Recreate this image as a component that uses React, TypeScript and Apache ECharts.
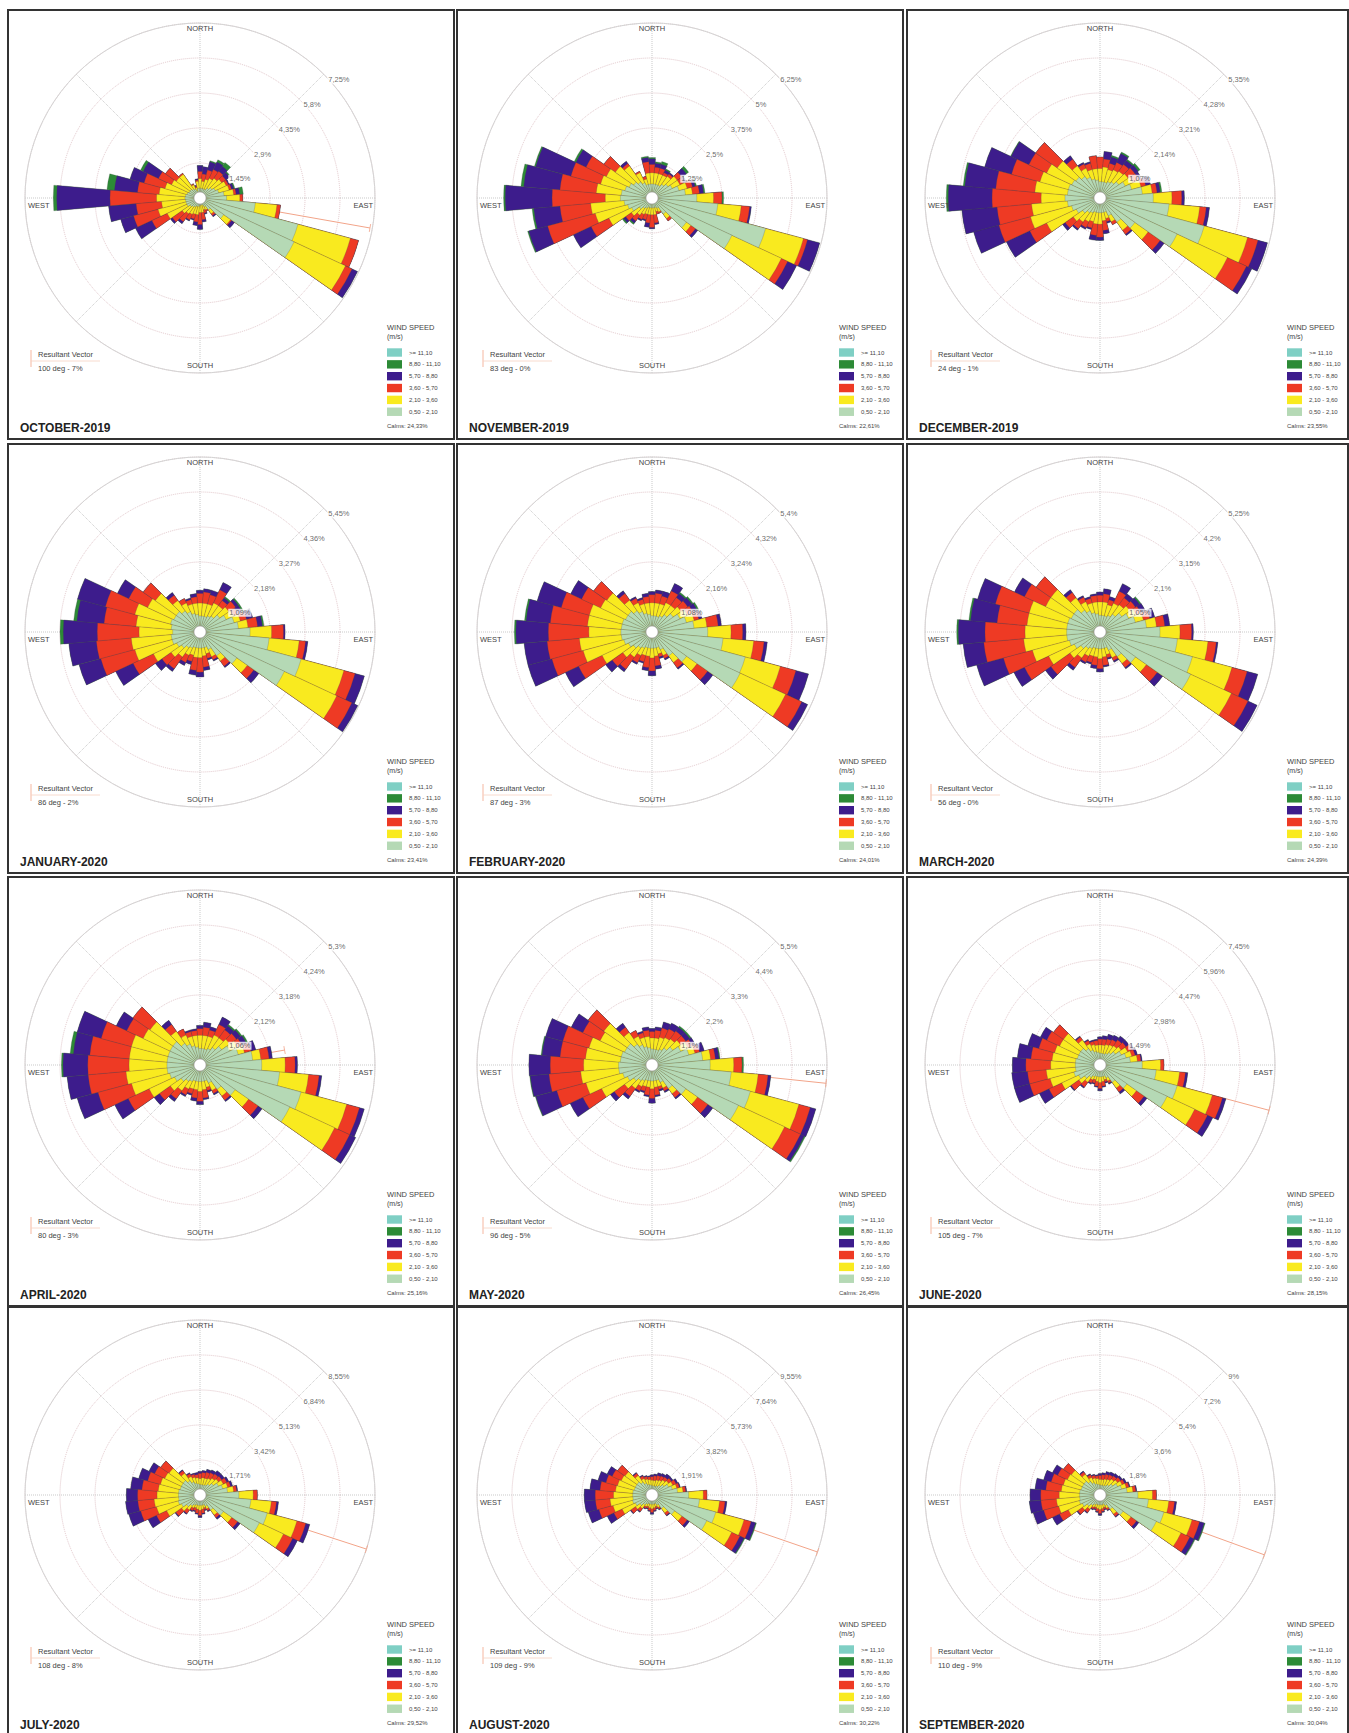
import React, { useEffect, useRef } from 'react';
import * as echarts from 'echarts';

// ---------------- DATA ----------------
const MONTHS = ['OCTOBER-2019', 'NOVEMBER-2019', 'DECEMBER-2019', 'JANUARY-2020', 'FEBRUARY-2020', 'MARCH-2020',
  'APRIL-2020', 'MAY-2020', 'JUNE-2020', 'JULY-2020', 'AUGUST-2020', 'SEPTEMBER-2020'];
const RING_STEP = [1.45, 1.25, 1.07, 1.09, 1.08, 1.05, 1.06, 1.1, 1.49, 1.71, 1.91, 1.8];
const RING_MAX = [7.25, 6.25, 5.35, 5.45, 5.4, 5.25, 5.3, 5.5, 7.45, 8.55, 9.55, 9];
const RV_DEG = [100, 83, 24, 86, 87, 56, 80, 96, 105, 108, 109, 110];
const RV_PCT = [7, 0, 1, 2, 3, 0, 3, 5, 7, 8, 9, 9];
// drawn length of the resultant vector (%) (clipped at the outer ring)
const RV_LEN = [7.15, 0, 1, 2, 2.6, 0, 2.6, 5.5, 7.45, 8.55, 9.55, 9];
const CALMS = ['24,33%', '22,61%', '23,55%', '23,41%', '24,01%', '24,39%', '25,16%', '26,45%', '28,15%', '29,52%', '30,22%', '30,04%'];
const DIRECTIONS = ['0', '10', '20', '30', '40', '50', '60', '70', '80', '90', '100', '110', '120', '130', '140', '150', '160', '170',
  '180', '190', '200', '210', '220', '230', '240', '250', '260', '270', '280', '290', '300', '310', '320', '330', '340', '350'];
const SPEED_CLASSES = ['>= 11,10', '8,80 - 11,10', '5,70 - 8,80', '3,60 - 5,70', '2,10 - 3,60', '0,50 - 2,10'];
const SPEED_COLORS = ['#7fcfc4', '#2c8a36', '#3d1c8c', '#ee3a24', '#f9ea1f', '#b5d9b5'];

// Cumulative frequency (%) reached at the outer edge of each speed class, per direction (N clockwise):
// [0.5-2.1, 2.1-3.6, 3.6-5.7, 5.7-8.8, 8.8-11.1]
const OCT = [
  [0.4, 0.8, 1.1, 1.35, 1.35], [0.4, 0.7, 1.0, 1.3, 1.3], [0.4, 0.8, 1.2, 1.55, 1.6], [0.4, 0.9, 1.3, 1.65, 1.75],
  [0.5, 1.0, 1.35, 1.6, 1.8], [0.6, 1.1, 1.3, 1.5, 1.55], [0.7, 1.2, 1.3, 1.35, 1.35], [0.8, 1.25, 1.35, 1.45, 1.5],
  [1.0, 1.4, 1.5, 1.65, 1.8], [1.1, 1.65, 1.77, 1.77, 1.77], [2.3, 3.2, 3.35, 3.35, 3.35], [4.2, 6.45, 6.8, 6.8, 6.8],
  [4.3, 6.65, 6.95, 7.2, 7.2], [1.2, 1.55, 1.6, 1.75, 1.75], [0.6, 0.8, 0.9, 0.95, 0.95], [0.4, 0.55, 0.6, 0.6, 0.6],
  [0.3, 0.5, 0.65, 0.7, 0.7], [0.3, 0.6, 0.9, 1.0, 1.0], [0.3, 0.6, 1.1, 1.3, 1.3], [0.35, 0.7, 1.0, 1.15, 1.15],
  [0.35, 0.7, 0.9, 0.95, 0.95], [0.4, 0.75, 1.0, 1.05, 1.05], [0.45, 0.8, 1.2, 1.3, 1.3], [0.5, 0.9, 1.4, 1.5, 1.5],
  [0.6, 1.5, 2.2, 2.95, 2.95], [0.6, 1.8, 2.85, 3.4, 3.4], [0.6, 1.6, 2.66, 3.8, 3.8], [0.62, 1.8, 3.73, 5.94, 6.08],
  [0.6, 1.7, 2.6, 3.56, 3.87], [0.55, 1.5, 2.4, 3.0, 3.0], [0.5, 1.3, 1.9, 2.6, 2.72], [0.5, 1.2, 1.75, 1.75, 1.75],
  [0.45, 1.2, 1.25, 1.25, 1.25], [0.4, 0.6, 0.65, 0.65, 0.65], [0.3, 0.45, 0.5, 0.55, 0.55], [0.4, 0.7, 0.75, 0.8, 0.8],
];
const NOV = [
  [0.5, 0.9, 1.2, 1.4, 1.45], [0.5, 0.9, 1.1, 1.25, 1.3], [0.5, 0.9, 1.1, 1.25, 1.35], [0.5, 0.9, 1.0, 1.1, 1.15],
  [0.6, 0.95, 1.05, 1.1, 1.1], [0.7, 1.1, 1.3, 1.5, 1.6], [0.8, 1.1, 1.25, 1.35, 1.35], [1.0, 1.3, 1.5, 1.6, 1.65],
  [1.2, 1.45, 1.7, 1.85, 1.9], [1.6, 2.2, 2.5, 2.5, 2.56], [2.36, 3.2, 3.5, 3.56, 3.56], [4.2, 5.6, 5.75, 6.2, 6.2],
  [3.15, 5.1, 5.35, 5.7, 5.7], [1.5, 1.7, 1.9, 2.0, 2.0], [0.7, 0.9, 1.0, 1.0, 1.0], [0.4, 0.55, 0.6, 0.6, 0.6],
  [0.35, 0.5, 0.6, 0.6, 0.6], [0.35, 0.6, 0.9, 0.95, 0.95], [0.35, 0.6, 1.05, 1.1, 1.1], [0.35, 0.6, 0.9, 1.05, 1.05],
  [0.35, 0.6, 0.8, 0.85, 0.85], [0.4, 0.65, 0.85, 0.9, 0.9], [0.45, 0.75, 1.0, 1.1, 1.15], [0.55, 0.9, 1.15, 1.25, 1.3],
  [0.8, 1.7, 2.4, 3.1, 3.1], [0.9, 2.1, 3.86, 4.56, 4.6], [1.0, 2.2, 3.3, 4.24, 4.3], [1.13, 1.67, 3.57, 5.24, 5.3],
  [1.1, 2.0, 3.3, 4.6, 4.7], [1.0, 1.9, 3.0, 4.3, 4.35], [0.9, 1.8, 2.6, 3.0, 3.07], [0.8, 1.6, 2.1, 2.1, 2.1],
  [0.7, 1.4, 1.5, 1.6, 1.6], [0.6, 1.0, 1.05, 1.05, 1.05], [0.5, 0.7, 0.8, 0.8, 0.8], [0.5, 0.9, 1.3, 1.45, 1.5],
];
const DEC = [
  [0.5, 0.9, 1.25, 1.25, 1.25], [0.5, 0.95, 1.2, 1.43, 1.43], [0.5, 0.9, 1.1, 1.3, 1.35], [0.55, 0.95, 1.2, 1.5, 1.55],
  [0.6, 1.0, 1.25, 1.4, 1.45], [0.7, 1.05, 1.3, 1.43, 1.5], [0.85, 1.1, 1.3, 1.4, 1.4], [1.0, 1.3, 1.45, 1.6, 1.6],
  [1.3, 1.6, 1.75, 1.85, 1.9], [1.63, 2.2, 2.5, 2.58, 2.58], [2.12, 3.06, 3.26, 3.36, 3.36], [3.3, 4.67, 5.0, 5.3, 5.3],
  [2.6, 4.3, 4.94, 5.12, 5.12], [1.3, 1.8, 2.25, 2.4, 2.4], [0.9, 1.2, 1.35, 1.4, 1.4], [0.6, 0.8, 0.9, 0.9, 0.9],
  [0.45, 0.65, 0.75, 0.8, 0.8], [0.45, 0.7, 1.0, 1.1, 1.1], [0.45, 0.8, 1.2, 1.3, 1.3], [0.45, 0.8, 1.15, 1.3, 1.3],
  [0.45, 0.75, 0.95, 1.0, 1.0], [0.5, 0.8, 1.0, 1.05, 1.05], [0.55, 0.9, 1.15, 1.2, 1.2], [0.65, 1.0, 1.3, 1.4, 1.4],
  [0.8, 1.8, 2.37, 3.16, 3.16], [0.9, 2.2, 3.2, 4.0, 4.0], [1.0, 2.1, 3.16, 4.24, 4.24], [1.07, 1.8, 3.3, 4.64, 4.7],
  [1.0, 2.0, 3.2, 4.15, 4.2], [1.0, 1.9, 2.8, 3.65, 3.65], [0.95, 1.8, 2.4, 3.0, 3.02], [0.9, 1.6, 2.4, 2.4, 2.4],
  [0.8, 1.2, 1.45, 1.58, 1.58], [0.7, 1.0, 1.15, 1.2, 1.2], [0.6, 0.9, 1.1, 1.15, 1.15], [0.55, 0.9, 1.3, 1.3, 1.3],
];
const JAN = [
  [0.5, 0.9, 1.2, 1.3, 1.3], [0.5, 0.9, 1.25, 1.35, 1.35], [0.5, 0.9, 1.2, 1.35, 1.35], [0.55, 1.0, 1.45, 1.7, 1.7],
  [0.6, 1.0, 1.2, 1.3, 1.35], [0.75, 1.1, 1.35, 1.45, 1.5], [0.9, 1.15, 1.3, 1.45, 1.5], [1.1, 1.3, 1.5, 1.7, 1.7],
  [1.2, 1.5, 1.8, 1.95, 2.0], [1.56, 2.23, 2.6, 2.65, 2.65], [2.16, 3.1, 3.3, 3.37, 3.37], [3.26, 4.64, 5.0, 5.3, 5.3],
  [2.9, 4.7, 5.22, 5.42, 5.42], [1.4, 1.8, 2.05, 2.24, 2.24], [0.9, 1.1, 1.3, 1.35, 1.35], [0.6, 0.85, 0.95, 1.0, 1.0],
  [0.5, 0.7, 0.85, 0.9, 0.9], [0.5, 0.75, 1.1, 1.2, 1.2], [0.5, 0.8, 1.25, 1.4, 1.4], [0.5, 0.8, 1.2, 1.35, 1.35],
  [0.5, 0.75, 0.95, 1.05, 1.05], [0.55, 0.8, 1.05, 1.15, 1.15], [0.6, 0.95, 1.4, 1.5, 1.5], [0.7, 1.1, 1.45, 1.7, 1.7],
  [0.8, 1.6, 2.3, 2.9, 2.9], [0.9, 2.1, 3.2, 3.9, 3.9], [0.9, 2.15, 3.24, 4.1, 4.1], [0.85, 1.9, 3.2, 4.26, 4.36],
  [0.9, 2.0, 3.0, 3.85, 3.95], [0.95, 2.1, 3.05, 3.95, 3.95], [0.9, 1.8, 2.45, 2.84, 2.84], [0.9, 1.7, 2.16, 2.16, 2.16],
  [0.8, 1.2, 1.4, 1.5, 1.5], [0.7, 1.0, 1.15, 1.15, 1.15], [0.6, 0.9, 1.05, 1.1, 1.1], [0.55, 0.9, 1.1, 1.2, 1.2],
];
const FEB = [
  [0.5, 0.9, 1.15, 1.25, 1.25], [0.5, 0.9, 1.2, 1.3, 1.3], [0.5, 0.9, 1.15, 1.3, 1.3], [0.55, 1.0, 1.4, 1.65, 1.65],
  [0.65, 1.0, 1.3, 1.45, 1.5], [0.8, 1.1, 1.35, 1.5, 1.55], [0.95, 1.2, 1.4, 1.55, 1.6], [1.1, 1.35, 1.5, 1.6, 1.6],
  [1.3, 1.7, 2.05, 2.15, 2.15], [1.72, 2.44, 2.8, 2.9, 2.9], [2.2, 3.15, 3.47, 3.57, 3.57], [2.98, 4.1, 4.6, 5.0, 5.0],
  [3.0, 4.55, 5.1, 5.3, 5.3], [1.3, 1.7, 2.1, 2.3, 2.3], [0.9, 1.15, 1.35, 1.4, 1.4], [0.6, 0.8, 0.9, 0.95, 0.95],
  [0.5, 0.7, 0.8, 0.85, 0.85], [0.5, 0.75, 1.05, 1.15, 1.15], [0.5, 0.8, 1.2, 1.35, 1.35], [0.5, 0.75, 1.1, 1.2, 1.2],
  [0.5, 0.75, 0.95, 1.0, 1.0], [0.55, 0.8, 1.05, 1.1, 1.1], [0.6, 0.95, 1.4, 1.5, 1.5], [0.7, 1.1, 1.5, 1.75, 1.75],
  [0.8, 1.7, 2.5, 2.95, 2.95], [0.9, 2.2, 3.2, 3.96, 3.96], [0.95, 2.25, 3.25, 3.96, 3.96], [0.96, 1.95, 3.2, 4.2, 4.25],
  [0.95, 2.0, 3.15, 3.9, 3.95], [0.95, 2.0, 2.9, 3.67, 3.67], [0.9, 1.75, 2.4, 2.77, 2.77], [0.9, 1.7, 2.2, 2.2, 2.2],
  [0.8, 1.2, 1.45, 1.55, 1.55], [0.7, 1.0, 1.15, 1.2, 1.2], [0.6, 0.9, 1.05, 1.1, 1.1], [0.55, 0.9, 1.1, 1.2, 1.2],
];
const MAR = [
  [0.5, 0.9, 1.1, 1.2, 1.2], [0.5, 0.9, 1.15, 1.3, 1.3], [0.5, 0.85, 1.0, 1.1, 1.1], [0.55, 0.95, 1.35, 1.6, 1.6],
  [0.65, 1.0, 1.25, 1.4, 1.4], [0.8, 1.1, 1.3, 1.45, 1.5], [0.95, 1.2, 1.35, 1.5, 1.5], [1.1, 1.35, 1.55, 1.7, 1.7],
  [1.4, 1.7, 1.95, 2.1, 2.1], [1.8, 2.4, 2.75, 2.8, 2.8], [2.33, 3.25, 3.5, 3.55, 3.55], [2.87, 4.1, 4.57, 4.9, 4.9],
  [3.0, 4.35, 4.9, 5.2, 5.2], [1.3, 1.7, 2.1, 2.3, 2.3], [0.9, 1.15, 1.3, 1.35, 1.35], [0.6, 0.85, 0.95, 1.0, 1.0],
  [0.5, 0.7, 0.8, 0.85, 0.85], [0.5, 0.75, 1.0, 1.05, 1.05], [0.5, 0.8, 1.1, 1.2, 1.2], [0.5, 0.75, 1.0, 1.1, 1.1],
  [0.5, 0.75, 0.95, 1.0, 1.0], [0.55, 0.8, 1.0, 1.05, 1.05], [0.6, 0.95, 1.3, 1.4, 1.4], [0.7, 1.1, 1.8, 2.0, 2.0],
  [0.85, 1.7, 2.5, 2.85, 2.85], [0.95, 2.1, 3.0, 3.83, 3.83], [1.0, 2.3, 3.5, 4.12, 4.12], [1.0, 2.25, 3.45, 4.25, 4.3],
  [1.0, 2.2, 3.1, 3.9, 3.95], [1.0, 2.2, 3.25, 3.8, 3.8], [0.95, 1.8, 2.5, 2.83, 2.83], [0.95, 1.8, 2.34, 2.34, 2.34],
  [0.8, 1.25, 1.45, 1.55, 1.55], [0.7, 1.0, 1.15, 1.2, 1.2], [0.6, 0.9, 1.05, 1.1, 1.1], [0.55, 0.9, 1.1, 1.15, 1.15],
];
const APR = [
  [0.5, 0.9, 1.1, 1.2, 1.2], [0.5, 0.9, 1.15, 1.3, 1.3], [0.5, 0.9, 1.1, 1.2, 1.2], [0.55, 1.0, 1.35, 1.6, 1.6],
  [0.65, 1.0, 1.3, 1.45, 1.5], [0.8, 1.1, 1.35, 1.5, 1.55], [1.0, 1.25, 1.4, 1.55, 1.6], [1.2, 1.4, 1.6, 1.75, 1.75],
  [1.6, 1.85, 2.1, 2.2, 2.2], [1.87, 2.58, 2.88, 2.95, 2.95], [2.42, 3.3, 3.62, 3.7, 3.7], [3.17, 4.6, 5.0, 5.15, 5.15],
  [3.0, 4.5, 5.0, 5.2, 5.2], [1.3, 1.8, 2.15, 2.3, 2.3], [0.9, 1.15, 1.3, 1.35, 1.35], [0.6, 0.85, 0.95, 1.0, 1.0],
  [0.5, 0.7, 0.8, 0.85, 0.85], [0.5, 0.75, 1.0, 1.05, 1.05], [0.5, 0.8, 1.1, 1.2, 1.2], [0.5, 0.75, 1.0, 1.1, 1.1],
  [0.5, 0.75, 0.9, 0.95, 0.95], [0.55, 0.8, 1.0, 1.05, 1.05], [0.6, 0.95, 1.25, 1.35, 1.35], [0.7, 1.1, 1.5, 1.7, 1.7],
  [0.85, 1.7, 2.4, 2.85, 2.85], [0.95, 2.15, 3.2, 3.85, 3.85], [1.0, 2.25, 3.4, 4.04, 4.04], [1.0, 2.15, 3.4, 4.15, 4.2],
  [1.0, 2.15, 3.35, 3.85, 3.95], [1.0, 2.15, 3.1, 3.85, 3.85], [1.0, 1.9, 2.45, 2.8, 2.8], [1.0, 1.85, 2.48, 2.48, 2.48],
  [0.8, 1.25, 1.5, 1.65, 1.65], [0.7, 1.0, 1.2, 1.2, 1.2], [0.6, 0.9, 1.05, 1.1, 1.1], [0.55, 0.9, 1.05, 1.1, 1.1],
];
const MAY = [
  [0.5, 0.85, 1.05, 1.15, 1.15], [0.5, 0.85, 1.1, 1.2, 1.2], [0.5, 0.9, 1.2, 1.4, 1.4], [0.55, 0.95, 1.25, 1.45, 1.45],
  [0.65, 1.0, 1.3, 1.45, 1.5], [0.8, 1.1, 1.3, 1.45, 1.5], [1.0, 1.25, 1.4, 1.5, 1.5], [1.2, 1.4, 1.55, 1.7, 1.7],
  [1.6, 1.85, 2.0, 2.12, 2.15], [1.83, 2.57, 2.83, 2.83, 2.88], [2.5, 3.35, 3.66, 3.75, 3.75], [3.2, 4.78, 5.15, 5.33, 5.33],
  [3.0, 4.6, 5.15, 5.28, 5.32], [1.3, 1.75, 2.15, 2.34, 2.34], [0.9, 1.1, 1.25, 1.3, 1.3], [0.6, 0.8, 0.9, 0.95, 0.95],
  [0.5, 0.7, 0.8, 0.85, 0.85], [0.5, 0.7, 0.95, 1.0, 1.0], [0.5, 0.75, 1.05, 1.2, 1.2], [0.5, 0.7, 0.95, 1.0, 1.0],
  [0.5, 0.7, 0.85, 0.9, 0.9], [0.55, 0.75, 0.9, 0.95, 0.95], [0.6, 0.9, 1.2, 1.3, 1.3], [0.7, 1.05, 1.45, 1.6, 1.6],
  [0.85, 1.75, 2.4, 2.84, 2.84], [0.95, 2.15, 3.1, 3.78, 3.8], [1.05, 2.25, 3.25, 3.84, 3.86], [1.05, 2.15, 3.2, 3.87, 3.87],
  [1.0, 2.1, 2.9, 3.47, 3.5], [1.0, 2.05, 2.9, 3.46, 3.46], [0.95, 1.8, 2.4, 2.8, 2.8], [0.95, 1.85, 2.45, 2.45, 2.45],
  [0.8, 1.25, 1.45, 1.6, 1.6], [0.7, 1.0, 1.2, 1.2, 1.2], [0.6, 0.9, 1.05, 1.1, 1.1], [0.55, 0.9, 1.1, 1.2, 1.2],
];
const JUN = [
  [0.5, 0.85, 1.1, 1.2, 1.2], [0.5, 0.85, 1.1, 1.25, 1.25], [0.5, 0.9, 1.15, 1.35, 1.35], [0.55, 0.95, 1.2, 1.4, 1.4],
  [0.65, 1.0, 1.3, 1.5, 1.5], [0.8, 1.1, 1.35, 1.5, 1.5], [1.0, 1.3, 1.5, 1.6, 1.6], [1.15, 1.4, 1.55, 1.65, 1.65],
  [1.3, 1.6, 1.75, 1.8, 1.8], [1.8, 2.58, 2.72, 2.72, 2.72], [2.4, 3.4, 3.65, 3.75, 3.75], [3.4, 4.95, 5.4, 5.55, 5.55],
  [3.15, 4.45, 5.05, 5.3, 5.3], [1.4, 1.9, 2.3, 2.45, 2.45], [0.9, 1.2, 1.4, 1.5, 1.5], [0.6, 0.75, 0.85, 0.9, 0.9],
  [0.5, 0.65, 0.75, 0.8, 0.8], [0.5, 0.7, 0.9, 0.95, 0.95], [0.5, 0.75, 1.0, 1.1, 1.1], [0.5, 0.7, 0.9, 0.95, 0.95],
  [0.5, 0.65, 0.8, 0.85, 0.85], [0.55, 0.7, 0.85, 0.9, 0.9], [0.65, 0.9, 1.15, 1.2, 1.2], [0.8, 1.1, 1.5, 1.55, 1.55],
  [1.0, 1.8, 2.4, 2.85, 2.85], [1.15, 2.2, 3.1, 3.77, 3.77], [1.05, 2.3, 3.1, 3.77, 3.77], [1.05, 2.1, 3.16, 3.73, 3.73],
  [1.05, 2.05, 2.95, 3.53, 3.53], [1.0, 2.0, 2.7, 3.18, 3.18], [1.0, 1.9, 2.5, 2.8, 2.8], [1.0, 1.9, 2.42, 2.42, 2.42],
  [0.85, 1.3, 1.45, 1.5, 1.5], [0.7, 1.0, 1.15, 1.2, 1.2], [0.6, 0.9, 1.05, 1.1, 1.1], [0.55, 0.85, 1.05, 1.1, 1.1],
];
const JUL = [
  [0.5, 0.8, 1.05, 1.15, 1.15], [0.5, 0.85, 1.1, 1.2, 1.2], [0.5, 0.85, 1.15, 1.3, 1.3], [0.55, 0.9, 1.2, 1.35, 1.35],
  [0.65, 1.0, 1.25, 1.45, 1.45], [0.8, 1.1, 1.3, 1.45, 1.45], [1.0, 1.25, 1.45, 1.55, 1.55], [1.15, 1.4, 1.55, 1.65, 1.65],
  [1.35, 1.65, 1.8, 1.85, 1.85], [1.9, 2.6, 2.8, 2.8, 2.8], [2.5, 3.5, 3.75, 3.85, 3.85], [3.4, 4.9, 5.35, 5.55, 5.55],
  [3.2, 4.5, 5.0, 5.25, 5.25], [1.4, 1.9, 2.25, 2.4, 2.4], [0.9, 1.2, 1.35, 1.45, 1.45], [0.6, 0.75, 0.85, 0.9, 0.9],
  [0.5, 0.65, 0.75, 0.8, 0.8], [0.5, 0.7, 0.9, 0.95, 0.95], [0.5, 0.75, 1.0, 1.1, 1.1], [0.5, 0.7, 0.9, 0.95, 0.95],
  [0.5, 0.65, 0.8, 0.85, 0.85], [0.55, 0.7, 0.85, 0.9, 0.9], [0.65, 0.9, 1.1, 1.15, 1.15], [0.8, 1.1, 1.45, 1.5, 1.5],
  [1.0, 1.8, 2.35, 2.8, 2.8], [1.1, 2.2, 3.0, 3.6, 3.6], [1.05, 2.25, 3.05, 3.65, 3.65], [1.05, 2.1, 3.05, 3.6, 3.6],
  [1.05, 2.05, 2.85, 3.4, 3.4], [1.0, 2.0, 2.65, 3.1, 3.1], [1.0, 1.9, 2.45, 2.75, 2.75], [1.0, 1.85, 2.35, 2.35, 2.35],
  [0.85, 1.3, 1.45, 1.5, 1.5], [0.7, 1.0, 1.15, 1.2, 1.2], [0.6, 0.9, 1.05, 1.1, 1.1], [0.55, 0.85, 1.0, 1.1, 1.1],
];
const AUG = [
  [0.5, 0.8, 1.0, 1.1, 1.1], [0.5, 0.8, 1.05, 1.15, 1.15], [0.5, 0.85, 1.1, 1.25, 1.25], [0.55, 0.9, 1.15, 1.3, 1.3],
  [0.65, 1.0, 1.2, 1.4, 1.4], [0.8, 1.1, 1.3, 1.4, 1.4], [1.0, 1.25, 1.45, 1.55, 1.55], [1.15, 1.4, 1.55, 1.6, 1.6],
  [1.4, 1.7, 1.85, 1.9, 1.9], [2.0, 2.8, 3.0, 3.0, 3.0], [2.6, 3.7, 4.0, 4.1, 4.1], [3.6, 5.2, 5.6, 5.85, 5.9],
  [3.3, 4.8, 5.3, 5.55, 5.6], [1.5, 2.0, 2.35, 2.5, 2.5], [0.9, 1.2, 1.35, 1.4, 1.4], [0.6, 0.75, 0.85, 0.9, 0.9],
  [0.5, 0.65, 0.75, 0.8, 0.8], [0.5, 0.7, 0.85, 0.9, 0.9], [0.5, 0.75, 0.95, 1.05, 1.05], [0.5, 0.7, 0.85, 0.9, 0.9],
  [0.5, 0.65, 0.75, 0.8, 0.8], [0.55, 0.7, 0.8, 0.85, 0.85], [0.65, 0.9, 1.1, 1.15, 1.15], [0.8, 1.1, 1.4, 1.45, 1.45],
  [1.0, 1.8, 2.3, 2.7, 2.7], [1.1, 2.2, 3.0, 3.6, 3.6], [1.05, 2.3, 3.1, 3.7, 3.7], [1.05, 2.1, 3.1, 3.7, 3.7],
  [1.05, 2.0, 2.85, 3.4, 3.4], [1.0, 1.95, 2.6, 3.05, 3.05], [1.0, 1.85, 2.4, 2.7, 2.7], [1.0, 1.8, 2.3, 2.3, 2.3],
  [0.85, 1.3, 1.45, 1.5, 1.5], [0.7, 1.0, 1.15, 1.2, 1.2], [0.6, 0.9, 1.05, 1.1, 1.1], [0.55, 0.85, 1.0, 1.05, 1.05],
];
const SEP = [
  [0.5, 0.8, 1.0, 1.1, 1.1], [0.5, 0.8, 1.05, 1.15, 1.15], [0.5, 0.85, 1.1, 1.25, 1.25], [0.55, 0.9, 1.15, 1.3, 1.3],
  [0.65, 1.0, 1.2, 1.35, 1.35], [0.8, 1.1, 1.3, 1.4, 1.4], [1.0, 1.25, 1.4, 1.5, 1.5], [1.15, 1.4, 1.55, 1.6, 1.6],
  [1.4, 1.7, 1.85, 1.9, 1.9], [1.95, 2.7, 2.9, 2.9, 2.9], [2.5, 3.55, 3.85, 3.95, 3.95], [3.4, 4.9, 5.3, 5.55, 5.6],
  [3.2, 4.6, 5.1, 5.35, 5.4], [1.45, 1.95, 2.3, 2.45, 2.45], [0.9, 1.2, 1.35, 1.4, 1.4], [0.6, 0.75, 0.85, 0.9, 0.9],
  [0.5, 0.65, 0.75, 0.8, 0.8], [0.5, 0.7, 0.85, 0.9, 0.9], [0.5, 0.75, 0.95, 1.05, 1.05], [0.5, 0.7, 0.85, 0.9, 0.9],
  [0.5, 0.65, 0.75, 0.8, 0.8], [0.55, 0.7, 0.8, 0.85, 0.85], [0.65, 0.9, 1.1, 1.15, 1.15], [0.8, 1.1, 1.4, 1.45, 1.45],
  [1.0, 1.8, 2.3, 2.7, 2.7], [1.1, 2.2, 3.0, 3.55, 3.55], [1.05, 2.25, 3.05, 3.65, 3.65], [1.05, 2.1, 3.05, 3.6, 3.6],
  [1.05, 2.0, 2.8, 3.35, 3.35], [1.0, 1.95, 2.6, 3.0, 3.0], [1.0, 1.85, 2.4, 2.7, 2.7], [1.0, 1.8, 2.3, 2.3, 2.3],
  [0.85, 1.3, 1.45, 1.5, 1.5], [0.7, 1.0, 1.15, 1.2, 1.2], [0.6, 0.9, 1.05, 1.1, 1.1], [0.55, 0.85, 1.0, 1.05, 1.05],
];
const ROSES = [OCT, NOV, DEC, JAN, FEB, MAR, APR, MAY, JUN, JUL, AUG, SEP];

// ---------------- LAYOUT ----------------
const COL_CX = [200, 652, 1100];
const ROW_CY = [198, 632, 1065, 1495];
const PANEL_LEFT = [8, 457, 907];
const PANEL_W = [446, 446, 441];
const ROSE_R = 175;
const FONT = '"Liberation Sans", Arial, Helvetica, sans-serif';

function fmtPct(v: number) {
  return String(Math.round(v * 100) / 100).replace('.', ',') + '%';
}

function txt(x: number, y: number, text: string, size: number, o: any = {}) {
  const align = o.align || 'left';
  const va = o.va || 'middle';
  return {
    type: 'text', x, y, z: 60,
    style: {
      text, fontSize: size, fontFamily: FONT, fill: o.fill || '#444',
      fontWeight: o.bold ? 'bold' : 'normal',
      align, verticalAlign: va, textAlign: align, textVerticalAlign: va,
    },
  };
}

function buildOption() {
  const polar: any[] = [];
  const angleAxis: any[] = [];
  const radiusAxis: any[] = [];
  const series: any[] = [];
  const graphic: any[] = [];

  ROSES.forEach((rose, m) => {
    const col = m % 3;
    const row = Math.floor(m / 3);
    const cx = COL_CX[col];
    const cy = ROW_CY[row];
    const pl = PANEL_LEFT[col];
    const pt = cy - 188;
    const gi = 2 * m;
    const di = 2 * m + 1;

    // grid polar (rings + radial lines)
    polar.push({ center: [cx, cy], radius: [0, ROSE_R] });
    angleAxis.push({
      polarIndex: gi, type: 'value', min: 0, max: 360, interval: 45, startAngle: 90, clockwise: true,
      axisLine: { show: true, lineStyle: { color: '#d4d4d4', width: 1 } },
      axisTick: { show: false }, axisLabel: { show: false },
      splitLine: { show: true, lineStyle: { color: '#c9c9c9', type: 'dotted', width: 1 } },
    });
    radiusAxis.push({
      polarIndex: gi, type: 'value', min: 0, max: RING_MAX[m], interval: RING_STEP[m],
      axisLine: { show: false }, axisTick: { show: false }, axisLabel: { show: false },
      splitLine: { show: true, lineStyle: { color: '#e2c6ca', type: 'dotted', width: 1 } },
    });
    // data polar (bars)
    polar.push({ center: [cx, cy], radius: [0, ROSE_R] });
    angleAxis.push({
      polarIndex: di, type: 'category', data: DIRECTIONS, startAngle: 95, clockwise: true,
      axisLine: { show: false }, axisTick: { show: false }, axisLabel: { show: false }, splitLine: { show: false },
    });
    radiusAxis.push({
      polarIndex: di, type: 'value', min: 0, max: RING_MAX[m],
      axisLine: { show: false }, axisTick: { show: false }, axisLabel: { show: false }, splitLine: { show: false },
    });

    // resultant vector (under bars)
    if (RV_LEN[m] > 0) {
      series.push({
        type: 'line', coordinateSystem: 'polar', polarIndex: gi, z: 1, silent: true,
        symbol: 'none', lineStyle: { color: '#f2a489', width: 1 },
        data: [[0, RV_DEG[m]], [RV_LEN[m], RV_DEG[m]]],
      });
      series.push({
        type: 'scatter', coordinateSystem: 'polar', polarIndex: gi, z: 1, silent: true,
        symbol: 'rect', symbolSize: [1, 8], symbolRotate: 90 - RV_DEG[m],
        itemStyle: { color: '#f2a489' },
        data: [[RV_LEN[m], RV_DEG[m]]],
      });
    }

    // wind-speed classes, outermost first so inner classes overlay them
    for (let b = 4; b >= 0; b--) {
      series.push({
        type: 'bar', coordinateSystem: 'polar', polarIndex: di, z: 2,
        name: SPEED_CLASSES[5 - b],
        barGap: '-100%', barCategoryGap: '0%',
        itemStyle: { color: SPEED_COLORS[5 - b], borderColor: 'rgba(70,70,70,0.55)', borderWidth: 0.4 },
        data: rose.map((d) => d[b]),
      });
    }

    // ring labels
    const ringVals = [1, 2, 3, 4, 5].map((k) => [RING_STEP[m] * k, 45]);
    series.push({
      type: 'scatter', coordinateSystem: 'polar', polarIndex: gi, z: 10, silent: true,
      symbolSize: 1, itemStyle: { color: 'rgba(0,0,0,0)' },
      data: ringVals,
      label: {
        show: true, position: [4, 2], align: 'left', verticalAlign: 'top',
        formatter: (p: any) => fmtPct(p.value[0]),
        fontSize: 7.5, color: '#444', fontFamily: FONT, backgroundColor: '#fff', padding: [0, 1],
      },
    });

    // panel frame
    graphic.push({
      type: 'rect', z: 0,
      shape: { x: pl, y: pt, width: PANEL_W[col], height: 429 },
      style: { fill: 'none', stroke: '#333', lineWidth: 2 },
    });
    // calm circle
    graphic.push({
      type: 'circle', z: 100, shape: { cx, cy, r: 6 },
      style: { fill: '#fff', stroke: '#9a9a9a', lineWidth: 0.6 },
    });
    // compass labels
    graphic.push(txt(cx, cy - 170, 'NORTH', 7.5, { align: 'center' }));
    graphic.push(txt(cx, cy + 167, 'SOUTH', 7.5, { align: 'center' }));
    graphic.push(txt(cx - 172, cy + 7, 'WEST', 7.5));
    graphic.push(txt(cx + 173, cy + 7, 'EAST', 7.5, { align: 'right' }));
    // title
    graphic.push(txt(pl + 12, cy + 230, MONTHS[m], 12, { bold: true, fill: '#222' }));
    // resultant vector legend
    graphic.push({
      type: 'line', z: 5, shape: { x1: cx - 169, y1: cy + 152, x2: cx - 169, y2: cy + 169 },
      style: { stroke: '#f2a489', lineWidth: 0.8 },
    });
    graphic.push({
      type: 'line', z: 5, shape: { x1: cx - 169, y1: cy + 163, x2: cx - 100, y2: cy + 163 },
      style: { stroke: '#f6d2c2', lineWidth: 0.8 },
    });
    graphic.push(txt(cx - 162, cy + 156, 'Resultant Vector', 7.5));
    graphic.push(txt(cx - 162, cy + 170, RV_DEG[m] + ' deg - ' + RV_PCT[m] + '%', 7.5));
    // wind speed legend
    graphic.push(txt(cx + 187, cy + 129, 'WIND SPEED', 7.5));
    graphic.push(txt(cx + 187, cy + 138, '(m/s)', 7));
    SPEED_CLASSES.forEach((lab, i) => {
      const yc = cy + 154.5 + i * 11.85;
      graphic.push({
        type: 'rect', z: 5, shape: { x: cx + 187, y: yc - 4.2, width: 15, height: 8.4 },
        style: { fill: SPEED_COLORS[i] },
      });
      graphic.push(txt(cx + 209, yc, lab, 6));
    });
    graphic.push(txt(cx + 187, cy + 227.7, 'Calms: ' + CALMS[m], 6));
  });

  return { animation: false, backgroundColor: '#fff', polar, angleAxis, radiusAxis, series, graphic };
}

export default function App() {
  const ref = useRef<HTMLDivElement>(null);
  useEffect(() => {
    if (!ref.current) return;
    const chart = echarts.init(ref.current, null, { renderer: 'svg' });
    chart.setOption(buildOption() as any);
    return () => chart.dispose();
  }, []);
  return (
    <div
      ref={ref}
      style={{ position: 'absolute', left: 0, top: 0, width: 1349, height: 1733, background: '#fff' }}
    />
  );
}
